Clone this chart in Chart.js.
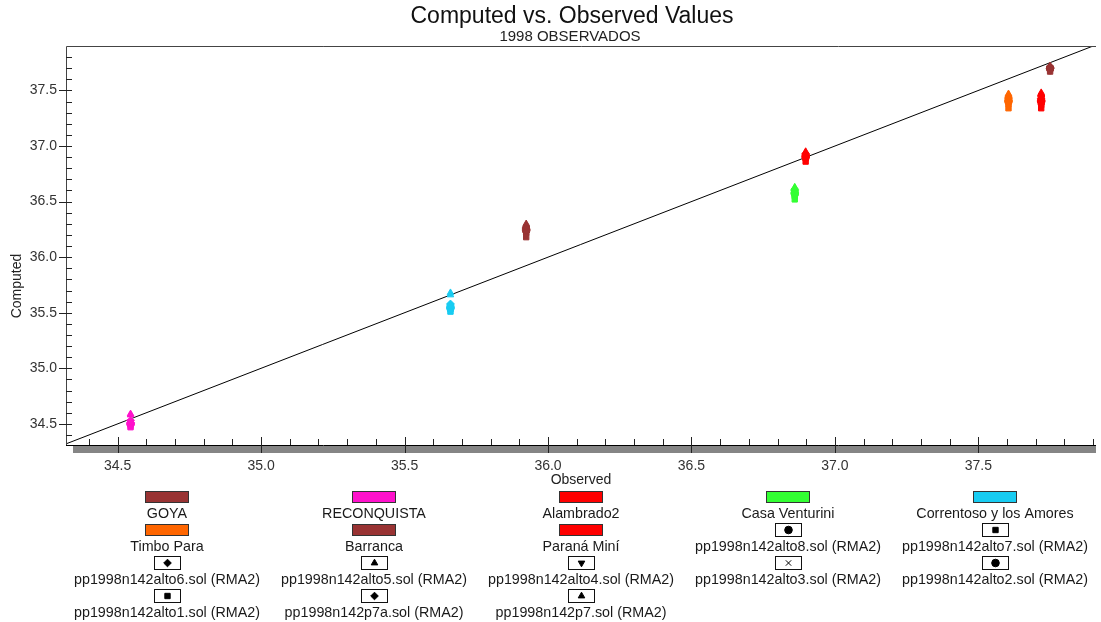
<!DOCTYPE html>
<html><head><meta charset="utf-8">
<script src="https://cdn.jsdelivr.net/npm/chart.js@4.4.1/dist/chart.umd.min.js"></script>
<style>html,body{margin:0;padding:0;background:#fff;} #wrap{width:1101px;height:622px;position:relative;}</style>
</head><body><div id="wrap"><canvas id="c"></canvas></div>
<script>
// ---- data ----
const stations = ['GOYA', 'RECONQUISTA', 'Alambrado2', 'Casa Venturini', 'Correntoso y los Amores', 'Timbo Para', 'Barranca', 'Paraná Miní'];
const stationColors = ['#993333', '#FF11CC', '#FF0000', '#33FF33', '#18CCF2', '#FF6600', '#993333', '#FF0000'];
const observed = [37.75, 34.545, 36.898, 36.86, 35.66, 37.605, 35.924, 37.719];
const files = ['pp1998n142alto8.sol (RMA2)', 'pp1998n142alto7.sol (RMA2)', 'pp1998n142alto6.sol (RMA2)', 'pp1998n142alto5.sol (RMA2)', 'pp1998n142alto4.sol (RMA2)', 'pp1998n142alto3.sol (RMA2)', 'pp1998n142alto2.sol (RMA2)', 'pp1998n142alto1.sol (RMA2)', 'pp1998n142p7a.sol (RMA2)', 'pp1998n142p7.sol (RMA2)'];
const fileMarkers = ['circle', 'rect', 'rectRot', 'triangle', 'triangle', 'crossRot', 'circle', 'rect', 'rectRot', 'triangle'];
const fileMarkerRotation = [0, 0, 0, 0, 180, 0, 0, 0, 0, 0];
// computed values: one per file, per station
const goyaComputed = [37.70, 37.69, 37.71, 37.72, 37.68, 37.69, 37.70, 37.67, 37.71, 37.72];
const reconquistaComputed = [34.50, 34.49, 34.51, 34.58, 34.52, 34.48, 34.50, 34.47, 34.53, 34.59];
const alambrado2Computed = [36.90, 36.89, 36.92, 36.94, 36.88, 36.90, 36.91, 36.86, 36.93, 36.95];
const casaVenturiniComputed = [36.57, 36.55, 36.60, 36.62, 36.54, 36.56, 36.58, 36.52, 36.61, 36.63];
const correntosoComputed = [35.55, 35.53, 35.57, 35.66, 35.56, 35.52, 35.54, 35.51, 35.58, 35.68];
const timboParaComputed = [37.40, 37.38, 37.43, 37.46, 37.37, 37.40, 37.41, 37.34, 37.44, 37.47];
const barrancaComputed = [36.24, 36.22, 36.26, 36.29, 36.21, 36.23, 36.25, 36.18, 36.27, 36.30];
const paranaMiniComputed = [37.40, 37.37, 37.43, 37.47, 37.36, 37.39, 37.41, 37.34, 37.45, 37.48];
const computedByStation = [goyaComputed, reconquistaComputed, alambrado2Computed, casaVenturiniComputed, correntosoComputed, timboParaComputed, barrancaComputed, paranaMiniComputed];
const majorTicks = [34.5, 35.0, 35.5, 36.0, 36.5, 37.0, 37.5];
const xRange = [34.32, 37.91];
const yRange = [34.31, 37.90];
const refLine = [34.0, 38.0];
const titleText = 'Computed vs. Observed Values';
const subtitleText = '1998 OBSERVADOS';
const xTitle = 'Observed';
const yTitle = 'Computed';

// ---- datasets ----
const datasets = stations.map((name, s) => ({
  label: name,
  data: computedByStation[s].map(v => ({x: observed[s], y: v})),
  backgroundColor: stationColors[s],
  borderColor: stationColors[s],
  pointStyle: fileMarkers,
  rotation: fileMarkerRotation,
  pointRadius: 3.8,
  borderWidth: 1,
  showLine: false
}));
datasets.push({
  label: '1:1',
  data: refLine.map(v => ({x: v, y: v})),
  showLine: true,
  borderColor: '#000',
  borderWidth: 1,
  pointRadius: 0,
  fill: false
});

function minorList(lo, hi) {
  const out = [];
  for (let k = Math.ceil(lo * 10 + 1e-6); k <= Math.floor(hi * 10 - 1e-6); k++) out.push(k / 10);
  return out;
}

function drawMarker(ctx, style, rot, r, x, y) {
  if (Chart.helpers && Chart.helpers.drawPoint) {
    Chart.helpers.drawPoint(ctx, {pointStyle: style, rotation: rot, radius: r, borderWidth: 1}, x, y);
  } else {
    ctx.beginPath(); ctx.arc(x, y, r, 0, Math.PI * 2); ctx.fill();
  }
}

const FONT = '"Liberation Sans", Arial, sans-serif';
const decor = {
  id: 'decor',
  afterDraw(chart) {
    const ctx = chart.ctx, a = chart.chartArea;
    const xs = chart.scales.x, ys = chart.scales.y;
    ctx.save();
    // titles
    ctx.textAlign = 'center'; ctx.textBaseline = 'middle';
    ctx.fillStyle = '#111';
    ctx.font = '23px ' + FONT;
    ctx.fillText(titleText, 572, 17);
    ctx.font = '15px ' + FONT;
    ctx.fillStyle = '#222';
    ctx.fillText(subtitleText, 570, 37);
    // frame
    ctx.strokeStyle = '#444'; ctx.lineWidth = 1;
    ctx.beginPath();
    ctx.moveTo(a.left + 0.5, a.bottom); ctx.lineTo(a.left + 0.5, a.top + 0.5); ctx.lineTo(a.right, a.top + 0.5);
    ctx.stroke();
    // gray band under x axis
    ctx.fillStyle = '#858585';
    ctx.fillRect(a.left + 7, a.bottom + 1, a.right - a.left - 7, 7);
    ctx.strokeStyle = '#000';
    ctx.beginPath(); ctx.moveTo(a.left, a.bottom + 0.5); ctx.lineTo(a.right, a.bottom + 0.5); ctx.stroke();
    // y ticks
    ctx.strokeStyle = '#222';
    ctx.beginPath();
    minorList(yRange[0], yRange[1]).forEach(v => {
      const py = Math.round(ys.getPixelForValue(v)) + 0.5;
      const major = majorTicks.some(m => Math.abs(m - v) < 1e-6);
      ctx.moveTo(major ? a.left - 7 : a.left, py); ctx.lineTo(a.left + 6, py);
    });
    // x ticks
    minorList(xRange[0], xRange[1]).forEach(v => {
      const px = Math.round(xs.getPixelForValue(v)) + 0.5;
      const major = majorTicks.some(m => Math.abs(m - v) < 1e-6);
      ctx.moveTo(px, major ? a.bottom + 8 : a.bottom); ctx.lineTo(px, major ? a.bottom - 8 : a.bottom - 6);
    });
    ctx.stroke();
    // axis titles
    ctx.fillStyle = '#222';
    ctx.font = '14px ' + FONT;
    ctx.textAlign = 'center'; ctx.textBaseline = 'middle';
    ctx.fillText(xTitle, (a.left + a.right) / 2, a.bottom + 35);
    ctx.save();
    ctx.translate(17, 286); ctx.rotate(-Math.PI / 2);
    ctx.fillText(yTitle, 0, 0);
    ctx.restore();
    // legend
    const items = stations.map((n, i) => ({type: 'swatch', text: n, color: stationColors[i]}))
      .concat(files.map((f, i) => ({type: 'marker', text: f, style: fileMarkers[i], rot: fileMarkerRotation[i]})));
    const colW = 207, rowH = 33, cx0 = (a.left + a.right) / 2 - 2 * colW;
    items.forEach((it, i) => {
      const r = Math.floor(i / 5), c = i % 5;
      const x = Math.round(cx0 + c * colW), top = a.bottom + 46 + r * rowH;
      if (it.type === 'swatch') {
        ctx.fillStyle = it.color;
        ctx.fillRect(x - 22, top, 44, 12);
        ctx.strokeStyle = '#333'; ctx.lineWidth = 1;
        ctx.strokeRect(x - 22 + 0.5, top + 0.5, 43, 11);
      } else {
        ctx.fillStyle = '#fff';
        ctx.fillRect(x - 13, top - 1, 27, 14);
        ctx.strokeStyle = '#111'; ctx.lineWidth = 1;
        ctx.strokeRect(x - 13 + 0.5, top - 1 + 0.5, 26, 13);
        ctx.fillStyle = '#000'; ctx.strokeStyle = '#000';
        drawMarker(ctx, it.style, it.rot, 3.8, x + 0.5, top + 6);
      }
      ctx.fillStyle = '#1a1a1a';
      ctx.font = '14.3px ' + FONT;
      ctx.textAlign = 'center'; ctx.textBaseline = 'middle';
      ctx.fillText(it.text, x, top + 23);
    });
    ctx.restore();
  }
};

Chart.defaults.font.family = FONT;
new Chart(document.getElementById('c'), {
  type: 'scatter',
  data: {datasets},
  options: {
    responsive: true,
    maintainAspectRatio: false,
    animation: false,
    layout: {padding: {left: 0, right: 0, top: 46, bottom: 0}},
    plugins: {
      legend: {display: false},
      tooltip: {enabled: false},
      title: {display: false},
      subtitle: {display: false}
    },
    scales: {
      x: {
        type: 'linear', min: xRange[0], max: xRange[1],
        grid: {display: false, drawTicks: false},
        border: {display: false},
        afterBuildTicks: s => { s.ticks = majorTicks.map(v => ({value: v})); },
        afterFit: s => { s.height = 177; },
        ticks: {color: '#333', font: {size: 14}, padding: 13, maxRotation: 0, callback: v => Number(v).toFixed(1)}
      },
      y: {
        type: 'linear', min: yRange[0], max: yRange[1],
        grid: {display: false, drawTicks: false},
        border: {display: false},
        afterBuildTicks: s => { s.ticks = majorTicks.map(v => ({value: v})); },
        afterFit: s => { s.width = 66; },
        ticks: {color: '#333', font: {size: 14}, padding: 9, callback: v => Number(v).toFixed(1)}
      }
    }
  },
  plugins: [decor]
});
</script>
</body></html>
